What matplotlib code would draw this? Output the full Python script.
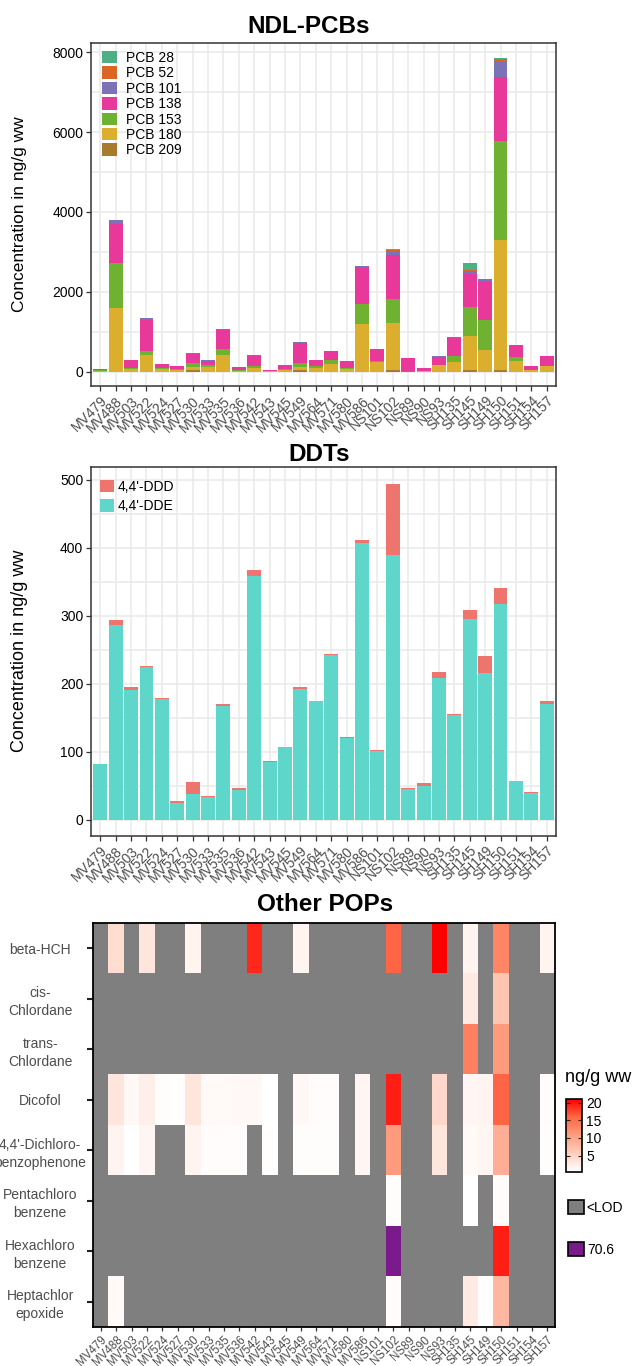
import numpy as np
import matplotlib.pyplot as plt
from matplotlib.colors import LinearSegmentedColormap
from matplotlib.patches import Patch

plt.rcParams['font.family'] = ['Liberation Sans', 'DejaVu Sans']

W, H = 635, 1366

samples = ["MV479", "MV488", "MV503", "MV522", "MV524", "MV527", "MV530", "MV533",
           "MV535", "MV536", "MV542", "MV543", "MV545", "MV549", "MV564", "MV571",
           "MV580", "MV586", "NS101", "NS102", "NS89", "NS90", "NS93", "SH135",
           "SH145", "SH149", "SH150", "SH151", "SH154", "SH157"]

# --- NDL-PCB congeners, ng/g ww (one value per sample) ---
pcb_names = ["PCB 28", "PCB 52", "PCB 101", "PCB 138", "PCB 153", "PCB 180", "PCB 209"]
pcb_colors = ["#4CAF86", "#DA6524", "#7B73B6", "#E8389A", "#6FB232", "#DBAE2E", "#A77A2C"]

pcb28 = [0, 0, 0, 0, 0, 0, 15, 0, 0, 0, 0, 0, 0, 0, 0, 0,
         0, 0, 0, 25, 0, 0, 0, 0, 167, 0, 33, 0, 0, 0]
pcb52 = [0, 0, 0, 0, 0, 0, 0, 0, 0, 0, 0, 0, 0, 0, 0, 0,
         0, 0, 0, 33, 0, 0, 0, 0, 25, 0, 50, 0, 0, 0]
pcb101 = [0, 90, 0, 50, 0, 0, 10, 25, 17, 0, 17, 0, 0, 33, 0, 0,
          0, 25, 0, 100, 0, 0, 25, 17, 75, 67, 400, 0, 0, 0]
pcb138 = [30, 985, 195, 775, 110, 75, 225, 108, 483, 67, 250, 25, 108, 492, 150, 225,
          167, 917, 300, 1092, 317, 67, 200, 458, 833, 958, 1592, 300, 100, 250]
pcb153 = [15, 1120, 30, 100, 25, 17, 100, 34, 150, 25, 50, 5, 17, 92, 50, 100,
          33, 508, 25, 600, 0, 0, 5, 150, 725, 750, 2475, 100, 0, 0]
pcb180 = [30, 1600, 75, 425, 65, 58, 90, 133, 425, 33, 108, 20, 50, 98, 100, 200,
          75, 1200, 250, 1175, 23, 33, 170, 250, 865, 550, 3265, 275, 50, 150]
pcb209 = [0, 5, 0, 0, 0, 0, 35, 0, 0, 0, 0, 0, 0, 35, 0, 0,
          0, 0, 0, 50, 10, 0, 0, 0, 35, 0, 35, 0, 0, 0]

# --- DDTs, ng/g ww ---
ddt_names = ["4,4'-DDD", "4,4'-DDE"]
ddt_colors = ["#EE746E", "#5ED6CA"]
dde = [82, 286, 191, 224, 178, 25, 38, 34, 168, 44, 359, 85, 107, 193, 175, 243,
       121, 407, 101, 390, 45.5, 50, 209, 154, 296, 216, 318, 57, 40, 171]
ddd = [0, 8, 5, 2.5, 1.5, 3, 18, 1.5, 3, 3, 9, 2, 0, 3, 0, 1.5,
       1, 5, 2, 104, 1.5, 4, 9, 2, 13, 25, 23, 0, 1.5, 4]

# --- Other POPs, ng/g ww (nan = below LOD) ---
nan = np.nan
pop_names = ["beta-HCH", "cis-\nChlordane", "trans-\nChlordane", "Dicofol",
             "4,4'-Dichloro-\nbenzophenone", "Pentachloro\nbenzene",
             "Hexachloro\nbenzene", "Heptachlor\nepoxide"]
beta_hch = [nan, 4, nan, 3, nan, nan, 1.5, nan, nan, nan, 19, nan, nan, 1.5, nan, nan,
            nan, nan, nan, 16, nan, nan, 21.1, nan, 1.5, nan, 13, nan, nan, 1.5]
cis_chlordane = [nan] * 24 + [2.5, nan, 6.5, nan, nan, nan]
trans_chlordane = [nan] * 24 + [13.5, nan, 11, nan, nan, nan]
dicofol = [nan, 3, 1, 2, 0.5, 0.4, 3, 0.8, 0.8, 1, 1, 0.3, nan, 1, 0.6, 0.6,
           nan, 1.2, nan, 19.5, nan, nan, 4.5, nan, 1.2, 1.5, 16, nan, nan, 0.6]
dcbp = [nan, 1.5, 0.3, 1.2, nan, nan, 1.5, 0.6, 0.6, 0.6, nan, 0.4, nan, 0.5, 0.5, 0.5,
        nan, 1.2, nan, 11, nan, nan, 3, nan, 0.8, 1.2, 9, nan, nan, 0.5]
pecb = [nan] * 19 + [0.5, nan, nan, nan, nan, 0.3, nan, 0.6, nan, nan, nan]
hcb = [nan] * 19 + [70.6, nan, nan, nan, nan, nan, nan, 19.5, nan, nan, nan]
heptachlor_epox = [nan, 0.8] + [nan] * 17 + [0.6, nan, nan, nan, nan, 2.5, 0.4, 8, nan, nan, nan]

pops = np.array([beta_hch, cis_chlordane, trans_chlordane, dicofol, dcbp,
                 pecb, hcb, heptachlor_epox], dtype=float)

TICK_GREY = "#4D4D4D"
FRAME = "#333333"


def px_axes(fig, left, top, right, bottom):
    return fig.add_axes([left / W, 1 - bottom / H, (right - left) / W, (bottom - top) / H])


def style_bar_axes(ax, ymin, ymax, major, minor):
    x = np.arange(len(samples))
    ax.set_xlim(-0.6, len(samples) - 0.4)
    ax.set_ylim(ymin, ymax)
    ax.set_xticks(x)
    ax.set_xticklabels(samples, rotation=45, ha="right", va="top",
                       rotation_mode="anchor", fontsize=8.3, color=TICK_GREY)
    ax.set_yticks(major)
    ax.set_yticks(minor, minor=True)
    ax.tick_params(axis="y", which="minor", length=0)
    ax.tick_params(axis="both", which="major", length=3.5, width=0.9, color=FRAME,
                   labelsize=10, pad=2)
    ax.tick_params(axis="y", labelcolor="black")
    ax.set_axisbelow(True)
    ax.grid(which="both", color="#EBEBEB", linewidth=1.2)
    for s in ax.spines.values():
        s.set_color(FRAME)
        s.set_linewidth(1.1)


fig = plt.figure(figsize=(W / 100, H / 100), dpi=100)

# ---------- NDL-PCBs ----------
ax1 = px_axes(fig, 91, 43, 556, 386)
x = np.arange(len(samples))
stack = [pcb209, pcb180, pcb153, pcb138, pcb101, pcb52, pcb28]
stack_names = pcb_names[::-1]
stack_colors = pcb_colors[::-1]
bottom = np.zeros(len(samples))
handles = {}
for vals, name, col in zip(stack, stack_names, stack_colors):
    vals = np.array(vals, dtype=float)
    handles[name] = ax1.bar(x, vals, width=0.9, bottom=bottom, color=col, linewidth=0)
    bottom += vals
total = bottom.max()
style_bar_axes(ax1, -0.045 * total, 1.048 * total, [0, 2000, 4000, 6000, 8000],
               [1000, 3000, 5000, 7000])
ax1.legend([handles[n] for n in pcb_names], pcb_names, loc="upper left",
           bbox_to_anchor=(10.5 / 465, 1 - 8 / 343), frameon=False, fontsize=10,
           borderpad=0, borderaxespad=0, handlelength=1.08, handleheight=1.0,
           labelspacing=0.1, handletextpad=0.7)
fig.text(309 / W, 1 - 33 / H, "NDL-PCBs", ha="center", va="baseline",
         fontsize=17.5, fontweight="bold")
fig.text(20 / W, 1 - 214 / H, "Concentration in ng/g ww", rotation=90,
         ha="center", va="center", fontsize=12.5)

# ---------- DDTs ----------
ax2 = px_axes(fig, 91, 467, 556, 836)
dde_a = np.array(dde, dtype=float)
ddd_a = np.array(ddd, dtype=float)
h_dde = ax2.bar(x, dde_a, width=0.9, color=ddt_colors[1], linewidth=0)
h_ddd = ax2.bar(x, ddd_a, width=0.9, bottom=dde_a, color=ddt_colors[0], linewidth=0)
top = (dde_a + ddd_a).max()
style_bar_axes(ax2, -0.048 * top, 1.05 * top, [0, 100, 200, 300, 400, 500],
               [50, 150, 250, 350, 450])
ax2.legend([h_ddd, h_dde], ddt_names, loc="upper left",
           bbox_to_anchor=(9 / 465, 1 - 13 / 369), frameon=False, fontsize=10,
           borderpad=0, borderaxespad=0, handlelength=1.0, handleheight=1.0,
           labelspacing=0.37, handletextpad=0.25)
fig.text(319 / W, 1 - 461 / H, "DDTs", ha="center", va="baseline",
         fontsize=17.5, fontweight="bold")
fig.text(20 / W, 1 - 651 / H, "Concentration in ng/g ww", rotation=90,
         ha="center", va="center", fontsize=13)

# ---------- Other POPs heatmap ----------
ax3 = px_axes(fig, 93, 923, 555, 1327)
cmap = LinearSegmentedColormap.from_list(
    "white_red", ["#FFFFFF", "#FFCFBF", "#FF9E81", "#FF6846", "#FF0000"])
cmap.set_bad("#7F7F7F")
cmap.set_over("#7A1A8C")
vmin = np.nanmin(pops)
vmax = np.nanmax(np.where(pops > 50, np.nan, pops))
im = ax3.imshow(np.ma.masked_invalid(pops), cmap=cmap, vmin=vmin, vmax=vmax,
                aspect="auto", interpolation="nearest")
ax3.set_xlim(-0.5, len(samples) - 0.5)
ax3.set_ylim(len(pop_names) - 0.5, -0.5)
ax3.set_xticks(x)
ax3.set_xticklabels(samples, rotation=45, ha="right", va="top",
                    rotation_mode="anchor", fontsize=8.3, color=TICK_GREY)
ax3.set_yticks(np.arange(len(pop_names)))
ax3.set_yticklabels(pop_names, fontsize=10, color=TICK_GREY, ha="center",
                    linespacing=1.35)
ax3.tick_params(axis="y", length=4, width=1.5, color="#222222", pad=34)
ax3.tick_params(axis="x", length=3, width=0.9, color=FRAME, pad=2)
for s in ax3.spines.values():
    s.set_color("black")
    s.set_linewidth(1.3)
fig.text(325 / W, 1 - 911 / H, "Other POPs", ha="center", va="baseline",
         fontsize=17.5, fontweight="bold")

cax = px_axes(fig, 566, 1099, 582, 1172)
cb = fig.colorbar(im, cax=cax, extend="neither")
cb.set_ticks([5, 10, 15, 20])
cb.outline.set_edgecolor("black")
cb.outline.set_linewidth(1.2)
cax.tick_params(axis="y", direction="in", left=True, right=True, length=3,
                width=0.8, color="#222222", labelsize=10, pad=3)
fig.text(565 / W, 1 - 1077 / H, "ng/g ww", ha="left", va="center", fontsize=13)

lod_handles = [Patch(facecolor="#7F7F7F", edgecolor="black", linewidth=1.2),
               Patch(facecolor="#7A1A8C", edgecolor="black", linewidth=1.2)]
fig.legend(lod_handles, ["<LOD", "70.6"], loc="upper left",
           bbox_to_anchor=(568 / W, 1 - 1200 / H), frameon=False, fontsize=10,
           borderpad=0, borderaxespad=0, handlelength=1.15, handleheight=1.15,
           labelspacing=2.0, handletextpad=0.2)

fig.savefig("out.png", dpi=100)
